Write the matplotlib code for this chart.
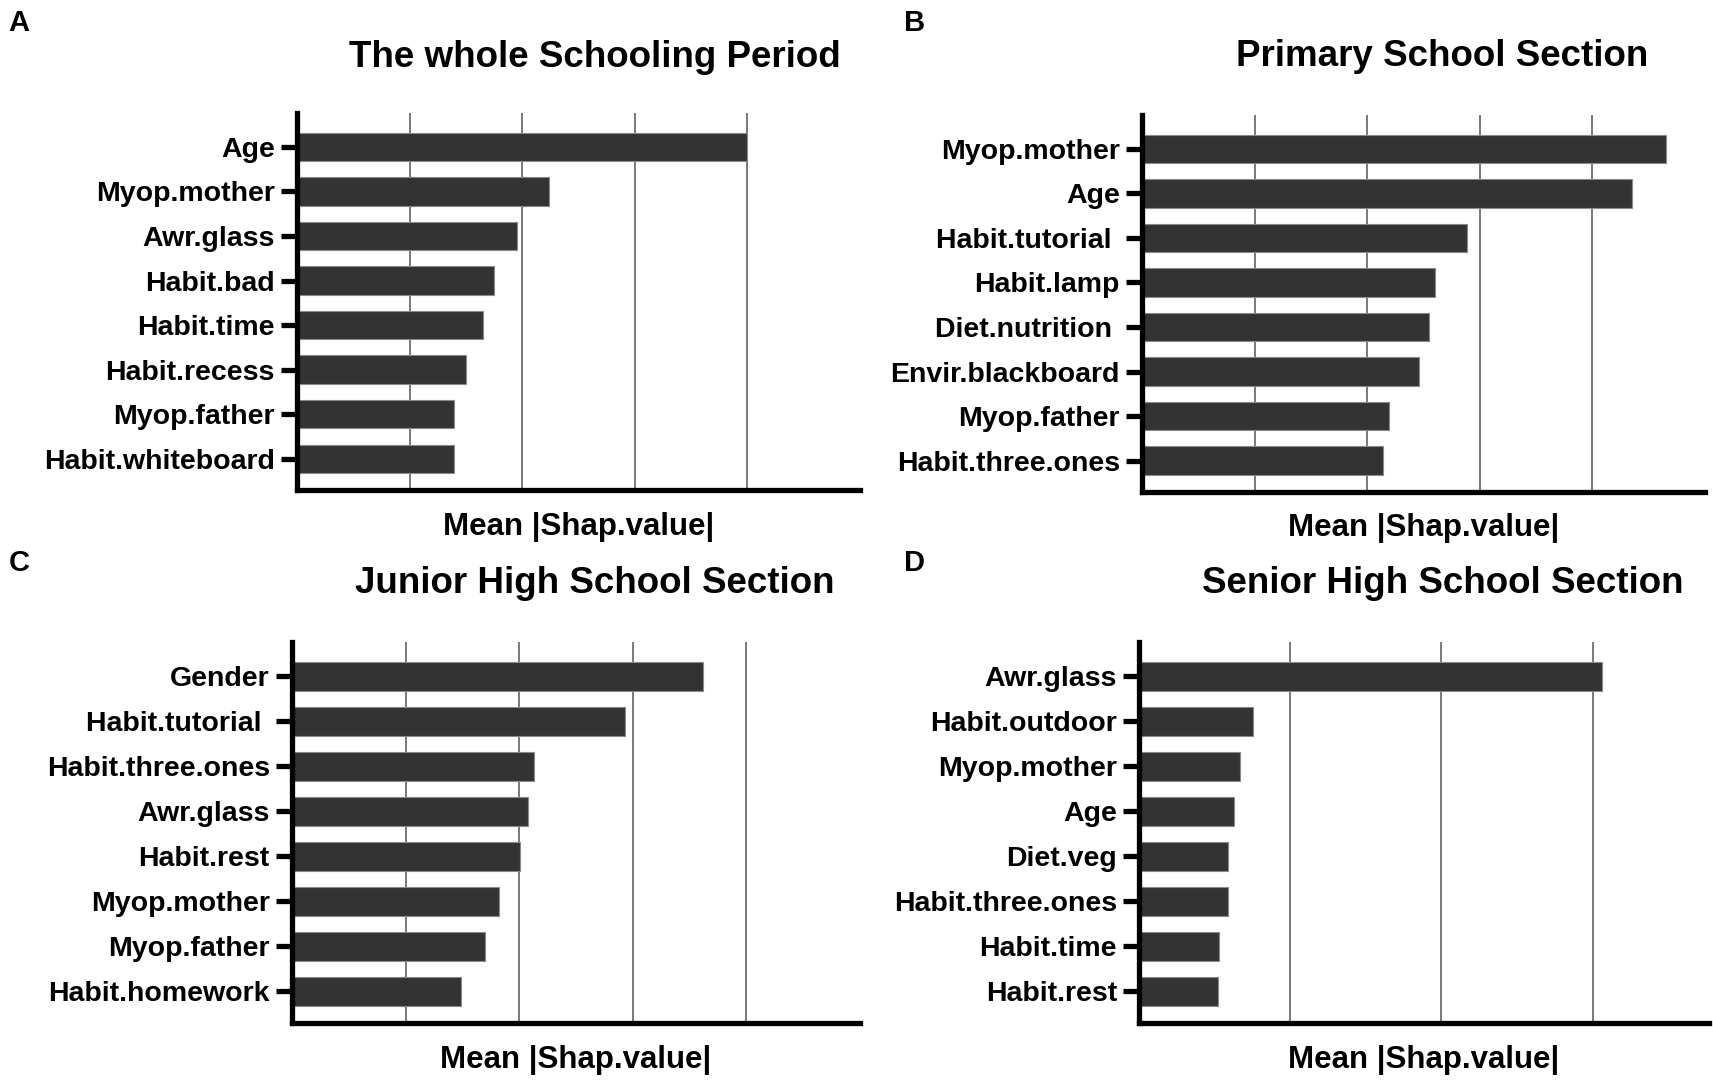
import matplotlib.pyplot as plt

plt.rcParams['font.family'] = ['Liberation Sans', 'DejaVu Sans']
plt.rcParams['font.weight'] = 'bold'

# panel A: the whole schooling period
feat_a = ['Age', 'Myop.mother', 'Awr.glass', 'Habit.bad', 'Habit.time',
          'Habit.recess', 'Myop.father', 'Habit.whiteboard']
shap_a = [4.00, 2.24, 1.95, 1.75, 1.65, 1.50, 1.39, 1.39]

# panel B: primary school
feat_b = ['Myop.mother', 'Age', 'Habit.tutorial ', 'Habit.lamp', 'Diet.nutrition ',
          'Envir.blackboard', 'Myop.father', 'Habit.three.ones']
shap_b = [4.65, 4.35, 2.89, 2.60, 2.55, 2.46, 2.19, 2.14]

# panel C: junior high school
feat_c = ['Gender', 'Habit.tutorial ', 'Habit.three.ones', 'Awr.glass', 'Habit.rest',
          'Myop.mother', 'Myop.father', 'Habit.homework']
shap_c = [3.62, 2.93, 2.13, 2.08, 2.01, 1.82, 1.70, 1.49]

# panel D: senior high school
feat_d = ['Awr.glass', 'Habit.outdoor', 'Myop.mother', 'Age', 'Diet.veg',
          'Habit.three.ones', 'Habit.time', 'Habit.rest']
shap_d = [3.06, 0.75, 0.67, 0.63, 0.59, 0.585, 0.53, 0.52]

titles = ['The whole Schooling Period', 'Primary School Section',
          'Junior High School Section', 'Senior High School Section']
letters = ['A', 'B', 'C', 'D']

fig = plt.figure(figsize=(17.13, 10.8), dpi=100)

# [left, bottom, width, height], xmax, title x, title y, letter x, letter y
panels = [
    (feat_a, shap_a, [0.1734, 0.5463, 0.3286, 0.3491], 5.0, 0.347, 0.947, 0.011, 0.979),
    (feat_b, shap_b, [0.6667, 0.5445, 0.3286, 0.3491], 5.0, 0.842, 0.948, 0.534, 0.979),
    (feat_c, shap_c, [0.1705, 0.0528, 0.3315, 0.3528], 5.0, 0.347, 0.460, 0.011, 0.479),
    (feat_d, shap_d, [0.6650, 0.0528, 0.3327, 0.3528], 3.77, 0.842, 0.460, 0.534, 0.479),
]

for i, (feats, vals, rect, xmax, tx, ty, lx, ly) in enumerate(panels):
    ax = fig.add_axes(rect)
    ypos = list(range(len(feats)))
    ax.barh(ypos, vals, height=0.64, color='#333333', edgecolor='#8a8a8a',
            linewidth=0.8, zorder=2)
    ax.set_yticks(ypos)
    ax.set_yticklabels(feats, fontsize=20.5, fontweight='bold')
    ax.set_ylim(7.7, -0.76)
    ax.set_xlim(0, xmax)
    ax.set_xticks([t for t in range(1, int(xmax) + 1) if t < xmax])
    ax.set_xticklabels([])
    ax.tick_params(axis='x', length=0)
    ax.tick_params(axis='y', length=11.5, width=3.8, pad=4.5)
    ax.grid(axis='x', color='#555555', linewidth=1.1, zorder=0)
    ax.set_axisbelow(True)
    for s in ['top', 'right']:
        ax.spines[s].set_visible(False)
    for s in ['left', 'bottom']:
        ax.spines[s].set_linewidth(3.8)
        ax.spines[s].set_capstyle('projecting')
    ax.set_xlabel('Mean |Shap.value|', fontsize=22.5, fontweight='bold', labelpad=12)
    fig.text(tx, ty, titles[i], fontsize=26.5, fontweight='bold', ha='center', va='center')
    fig.text(lx, ly, letters[i], fontsize=21, fontweight='bold', ha='center', va='center')

fig.savefig('out.png', dpi=100)
